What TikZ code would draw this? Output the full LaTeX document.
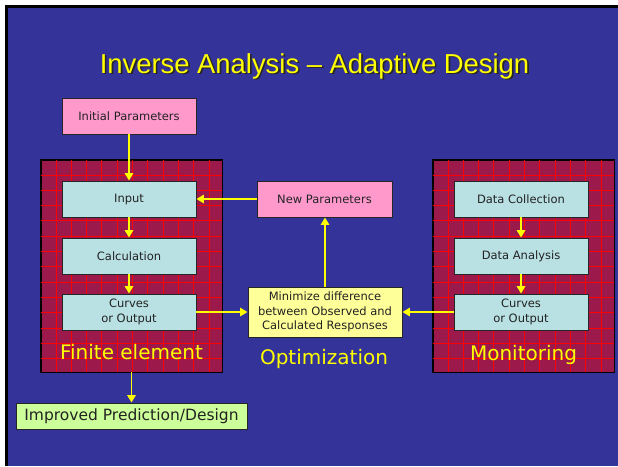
\documentclass[tikz,border=0pt]{standalone}
\usepackage{fontspec}
\newfontfamily\dv{DejaVu Sans}
\newfontfamily\ar{Liberation Sans}
\usetikzlibrary{arrows.meta}
\definecolor{bgblue}{HTML}{333399}
\definecolor{maroon}{HTML}{9B1A4B}
\definecolor{gridred}{HTML}{FF0000}
\definecolor{cyanbox}{HTML}{B9E0E3}
\definecolor{pinkbox}{HTML}{FF99CC}
\definecolor{yellowbox}{HTML}{FFFF99}
\definecolor{greenbox}{HTML}{CCFF99}
\definecolor{arrowyellow}{HTML}{FFFF00}
\definecolor{boxtext}{HTML}{222222}
\tikzset{
  basebox/.style={draw=black!85, line width=0.9pt, text=boxtext, align=center,
    inner sep=0pt, font=\dv\fontsize{11.5}{14.3}\selectfont},
  cbox/.style={basebox, fill=cyanbox, minimum width=134pt, minimum height=36pt},
  pbox/.style={basebox, fill=pinkbox, minimum width=134pt, minimum height=36pt},
  ybox/.style={basebox, fill=yellowbox, minimum width=154pt, minimum height=50pt},
  gbox/.style={basebox, fill=greenbox, minimum width=231pt, minimum height=26pt,
    font=\dv\fontsize{15.5}{18}\selectfont},
  panel/.style={draw=black, line width=0.9pt, fill=maroon, minimum width=181pt,
    minimum height=212pt, inner sep=0pt},
  gridline/.style={draw=gridred, line width=0.6pt},
  plabel/.style={anchor=base, text=arrowyellow, font=\dv\fontsize{20}{24}\selectfont, inner sep=0pt},
  titlefont/.style={anchor=base, inner sep=0pt, font=\ar\fontsize{27.4}{32}\selectfont},
  arr/.style={draw=arrowyellow, line width=1.6pt, -{Triangle[length=7.5pt,width=8.5pt]}},
}
\newcommand\panelgrid[1]{%
  \begin{scope}
    \clip (#1.north west) rectangle (#1.south east);
    \foreach \k in {1,...,11}
      \draw[gridline] ([xshift=\k*15.3pt]#1.north west) -- ([xshift=\k*15.3pt]#1.south west);
    \foreach \k in {1,...,13}
      \draw[gridline] ([yshift=-\k*15.3pt]#1.north west) -- ([yshift=-\k*15.3pt]#1.north east);
  \end{scope}
  \draw[black, line width=0.9pt] (#1.north west) rectangle (#1.south east);
}
\begin{document}
\begin{tikzpicture}[x=1pt,y=-1pt]
\useasboundingbox (0,0) rectangle (618,466);
\fill[white] (0,0) rectangle (618,466);
\fill[bgblue] (5,5) rectangle (618,466);
\fill[black] (5,5) rectangle (8,466);
\fill[black] (5,5) rectangle (618,8);

% title with shadow
\node (titleshadow) [titlefont, text=black!85] at (316.2,74.7) {Inverse Analysis – Adaptive Design};
\node (title) [titlefont, text=arrowyellow] at (314.5,73) {Inverse Analysis – Adaptive Design};

% panels
\node (fe) [panel] at (131.5,266) {};
\panelgrid{fe}
\node (mon) [panel] at (523.5,266) {};
\panelgrid{mon}

% boxes
\node (init) [pbox] at (129,116) {Initial Parameters};
\node (input) [cbox] at (129,199) {Input};
\node (calc) [cbox] at (129,256) {Calculation};
\node (curvesfe) [cbox] at (129,312) {Curves\\or Output};
\node (datacol) [cbox] at (521,199) {Data Collection};
\node (dataan) [cbox] at (521,256) {Data Analysis};
\node (curvesmon) [cbox] at (521,312) {Curves\\or Output};
\node (newpar) [pbox, minimum width=135pt] at (324.5,199) {New Parameters};
\node (minim) [ybox] at (325,312) {Minimize difference\\between Observed and\\Calculated Responses};
\node (improved) [gbox] at (131.5,416) {Improved Prediction/Design};

% labels
\node (felabel) [plabel] at (131.5,359) {Finite element};
\node (optlabel) [plabel] at (324,364) {Optimization};
\node (monlabel) [plabel] at (523.5,360) {Monitoring};

% connectors
\draw[arr] (init) -- (input);
\draw[arr] (input) -- (calc);
\draw[arr] (calc) -- (curvesfe);
\draw[arr] (datacol) -- (dataan);
\draw[arr] (dataan) -- (curvesmon);
\draw[arr] (newpar) -- (input);
\draw[arr] (minim.north) -- (minim.north |- newpar.south);
\draw[arr] (curvesfe) -- (minim);
\draw[arr] (curvesmon) -- (minim);
\draw[arr] (fe) -- (improved);
\end{tikzpicture}
\end{document}
